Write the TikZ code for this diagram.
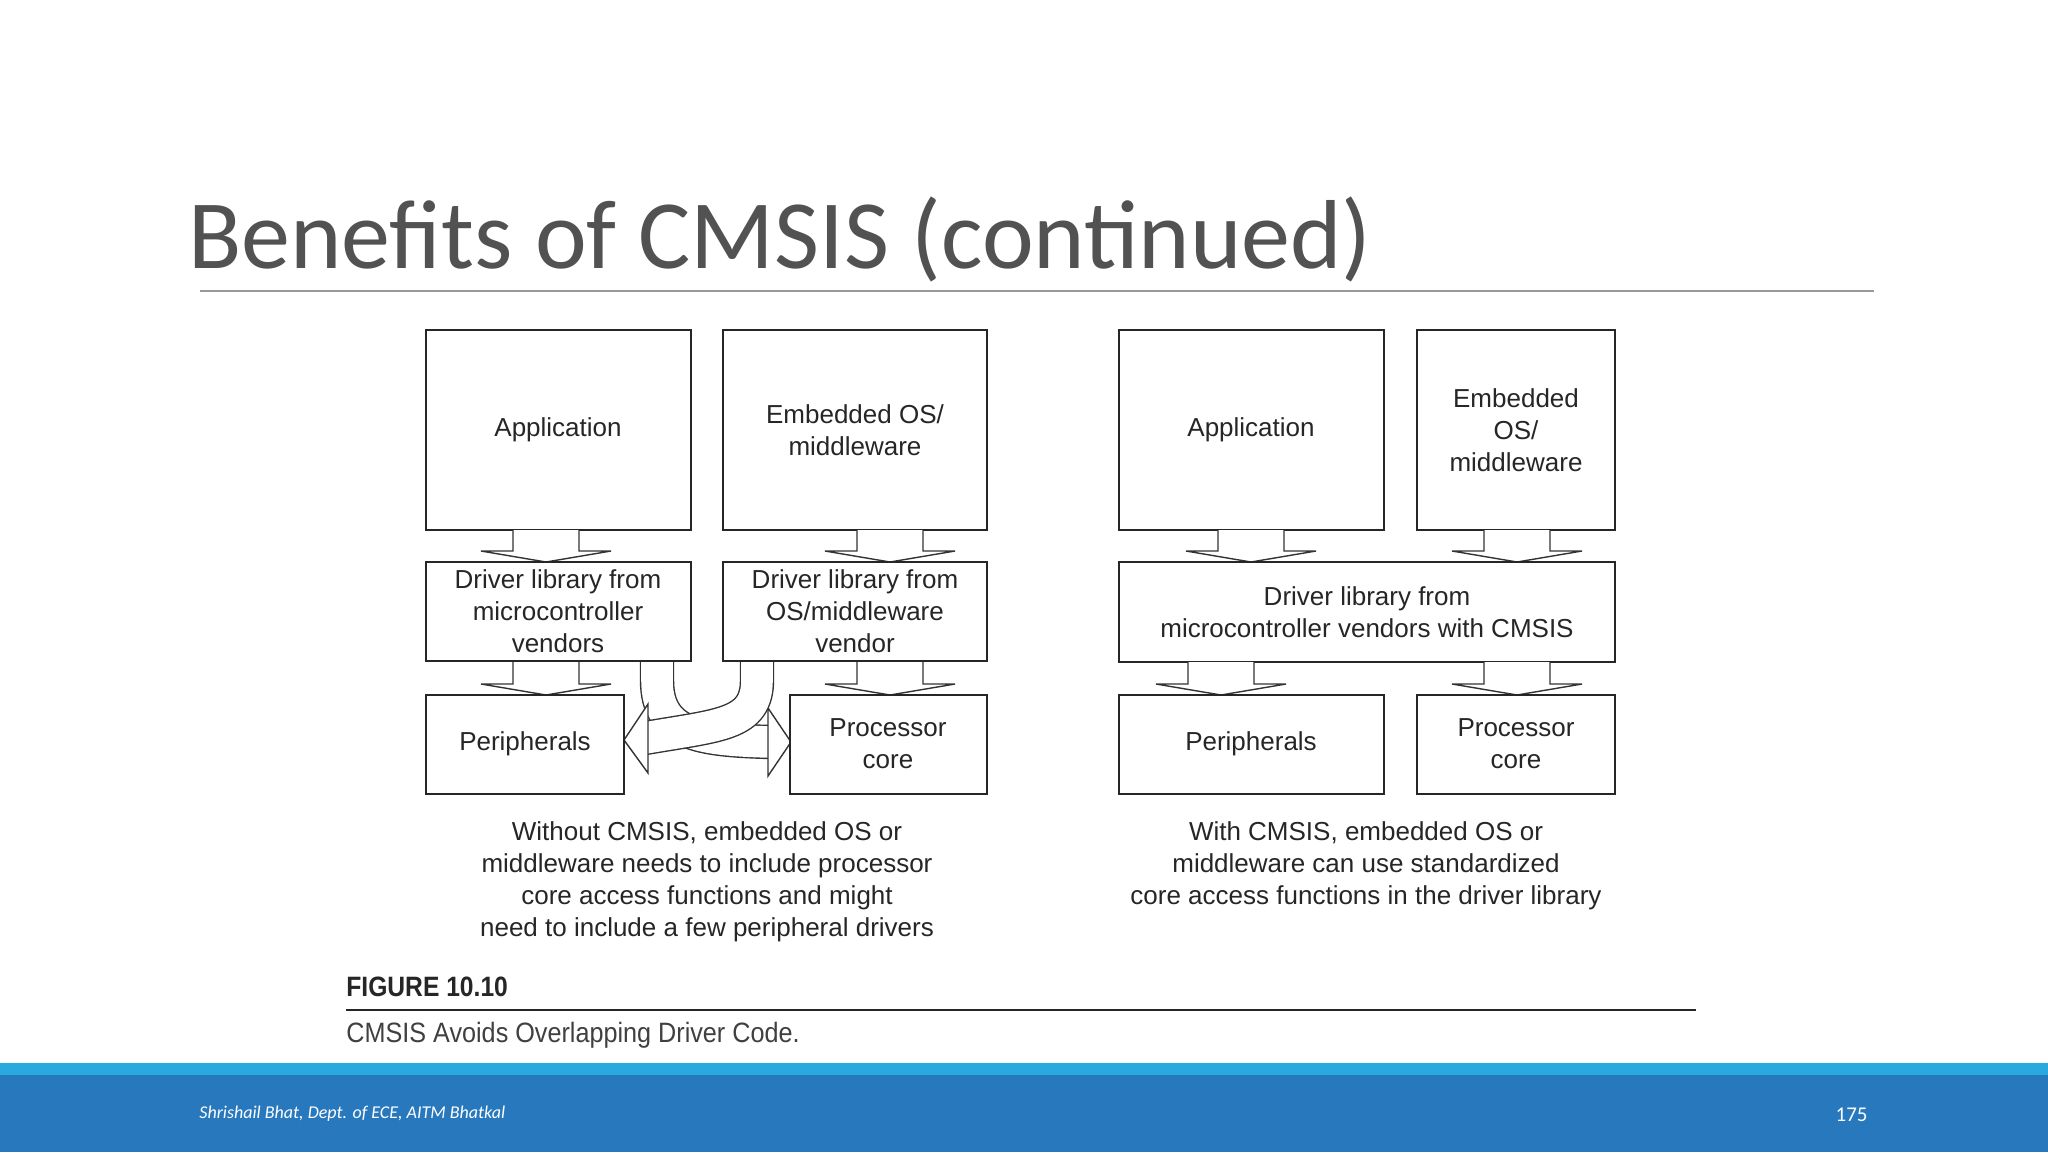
\documentclass[tikz,border=0pt]{standalone}
\usepackage{fontspec}
\setmainfont{Liberation Sans}
\newfontfamily\carl{Carlito}
\definecolor{barD}{RGB}{40,120,190}
\definecolor{barL}{RGB}{40,170,225}
\begin{document}
\begin{tikzpicture}[x=0.5pt,y=-0.5pt,
  bx/.style={draw=black!85,line width=0.8pt,fill=white},
  tx/.style={font=\fontsize{13}{16}\selectfont,text=black!85,align=center},
  ar/.style={draw=black!80,line width=0.7pt,fill=white,line join=miter}]
\useasboundingbox (0,0) rectangle (2048,1152);
\fill[white] (0,0) rectangle (2048,1152);
\newcommand\darr[3]{\draw[ar] ({#1-33},#2) -- ({#1-33},{#3-11}) -- ({#1-65},{#3-11}) -- (#1,#3) -- ({#1+65},{#3-11}) -- ({#1+33},{#3-11}) -- ({#1+33},#2);}
% title
\node[anchor=base west,inner sep=0,font=\carl\fontsize{49}{54}\selectfont,text=black!68] (title) at (188,268) {Benefits of CMSIS (continued)};
\draw[black!40,line width=0.7pt] (200,291) coordinate (t1) -- (1874,291) coordinate (t2);
% left boxes
\draw[bx] (426,330) rectangle (691,530); \node[tx] (a1) at (558,430) {Application};
\draw[bx] (723,330) rectangle (987,530); \node[tx] (e1) at (855,430) {Embedded OS/\\middleware};
\darr{546}{530}{562}\darr{890}{530}{562}
\darr{546}{661}{695}\darr{890}{661}{695}
% curved arrows
\draw[black!80,line width=17.2pt] (657,660) -- (657,680) .. controls (657,735) and (700,740) .. (770,742);
\draw[white,line width=15.8pt] (657,655) -- (657,680) .. controls (657,735) and (700,740) .. (770,742);
\draw[ar] (768,708) -- (791,742) -- (768,776) -- cycle;
\draw[black!80,line width=17.2pt] (757,660) -- (757,680) .. controls (757,725) and (720,725) .. (645,738);
\draw[white,line width=15.8pt] (757,655) -- (757,680) .. controls (757,725) and (720,725) .. (645,738);
\draw[ar] (648,704) -- (624,740) -- (648,773) -- cycle;
\draw[bx] (426,562) rectangle (691,661); \node[tx] (d1) at (558,611) {Driver library from\\microcontroller\\vendors};
\draw[bx] (723,562) rectangle (987,661); \node[tx] (d2) at (855,611) {Driver library from\\OS/middleware\\vendor};
\draw[bx] (426,695) rectangle (624,794); \node[tx] (p1) at (525,744) {Peripherals};
\draw[bx] (790,695) rectangle (987,794); \node[tx] (c1) at (888,744) {Processor\\core};
% right boxes
\draw[bx] (1119,330) rectangle (1384,530); \node[tx] (a2) at (1251,430) {Application};
\draw[bx] (1417,330) rectangle (1615,530); \node[tx] (e2) at (1516,430) {Embedded\\OS/\\middleware};
\darr{1251}{530}{562}\darr{1517}{530}{562}
\draw[bx] (1119,562) rectangle (1615,662); \node[tx] (d3) at (1367,612) {Driver library from\\microcontroller vendors with CMSIS};
\darr{1221}{662}{695}\darr{1517}{662}{695}
\draw[bx] (1119,695) rectangle (1384,794); \node[tx] (p2) at (1251,744) {Peripherals};
\draw[bx] (1417,695) rectangle (1615,794); \node[tx] (c2) at (1516,744) {Processor\\core};
% captions
\node[tx] (cap1) at (707,882) {Without CMSIS, embedded OS or\\middleware needs to include processor\\core access functions and might\\need to include a few peripheral drivers};
\node[tx] (cap2) at (1366,866) {With CMSIS, embedded OS or\\middleware can use standardized\\core access functions in the driver library};
\node[anchor=base west,inner sep=0,font=\bfseries\fontsize{14}{16}\selectfont,text=black!85,xscale=0.88] (fig) at (346,996) {FIGURE 10.10};
\draw[black!85,line width=0.8pt] (346,1010) coordinate (f1) -- (1696,1010) coordinate (f2);
\node[anchor=base west,inner sep=0,font=\fontsize{14}{16}\selectfont,text=black!75,xscale=0.9] (figc) at (346,1042) {CMSIS Avoids Overlapping Driver Code.};
% footer
\fill[barL] (0,1063) rectangle (2048,1075);
\fill[barD] (0,1075) rectangle (2048,1152);
\node[anchor=base west,inner sep=0,font=\carl\itshape\fontsize{9}{10}\selectfont,text=white] (ft) at (199,1118) {Shrishail Bhat, Dept. of ECE, AITM Bhatkal};
\node[anchor=base east,inner sep=0,font=\carl\fontsize{10.5}{11}\selectfont,text=white] (pg) at (1868,1121) {175};
\end{tikzpicture}
\end{document}
